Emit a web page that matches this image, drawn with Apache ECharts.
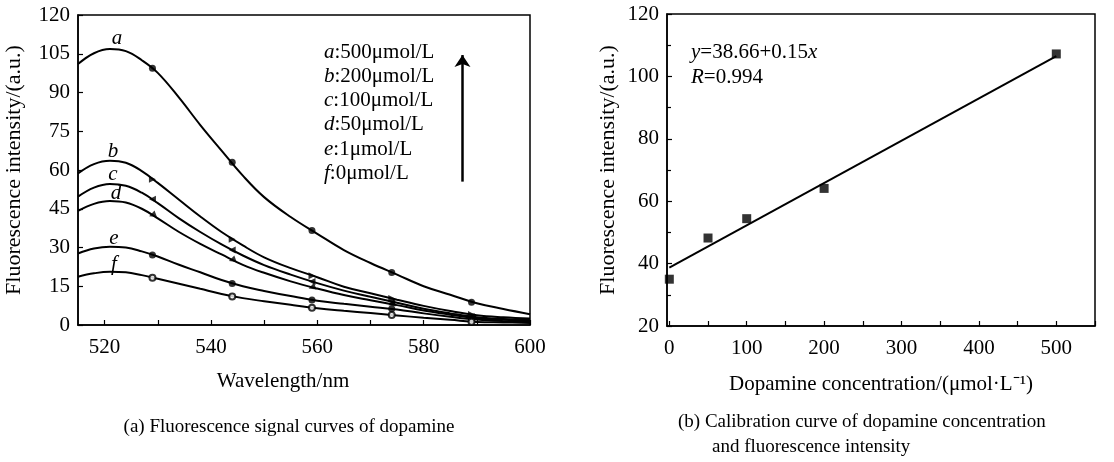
<!DOCTYPE html>
<html>
<head>
<meta charset="utf-8">
<script src="https://cdn.jsdelivr.net/npm/echarts@6/dist/echarts.min.js"></script>
<style>
html,body{margin:0;padding:0;background:#fff}
#chart{width:1114px;height:462px}
</style>
</head>
<body>
<div id="chart"></div>
<script>
// (a) spectra
var wavelength = [515, 518, 521, 524, 527, 530, 534, 538, 542, 546, 550, 555, 560, 565, 570, 575, 580, 585, 590, 595, 600];
var curveA = [101, 105.2, 106.8, 106, 102.5, 97.6, 88, 77.4, 67.5, 57.8, 49.5, 41.8, 35.3, 29, 24, 19.5, 15, 11.7, 8.4, 6.2, 4.2];
var curveB = [58.7, 62.3, 63.6, 62.8, 59.6, 55, 48.5, 42, 36, 30.8, 26.2, 22, 18.5, 14.8, 12.3, 9.8, 7.4, 5.4, 3.8, 3, 2.5];
var curveC = [49.7, 53.2, 54.6, 53.9, 51.2, 47.2, 41.3, 36, 31.2, 26.9, 23.2, 19.5, 16.2, 13.3, 10.9, 8.6, 6.3, 4.5, 3, 2.3, 1.9];
var curveD = [44.2, 46.9, 48, 47.4, 45, 41.3, 36, 31.4, 27.3, 23.3, 20.2, 16.9, 14.1, 11.6, 9.6, 7.7, 5.6, 4, 2.6, 2, 1.6];
var curveE = [27.7, 29.6, 30.3, 30, 28.5, 26.5, 23.3, 20.4, 17.4, 15, 13.2, 11.2, 9.4, 8.2, 7.1, 6, 4.5, 3.2, 2.1, 1.5, 1.2];
var curveF = [18.7, 20, 20.6, 20.4, 19.3, 17.9, 16, 14, 12, 10.4, 9.2, 7.8, 6.5, 5.5, 4.6, 3.7, 2.8, 2, 1.2, 1, 0.8];
// marker points on each curve
var markerWavelength = [529, 544, 559, 574, 589];
var markerA = [99.4, 63, 36.6, 20.3, 8.8];
var markerB = [56.4, 33.2, 19.1, 10.3, 4.1];
var markerC = [48.7, 29, 16.8, 9.0, 3.2];
var markerD = [42.6, 25.2, 14.6, 8.1, 2.8];
var markerE = [27.1, 16.1, 9.7, 6.3, 2.2];
var markerF = [18.3, 11, 6.7, 3.9, 1.3];
var curveNames = ['a', 'b', 'c', 'd', 'e', 'f'];
var concLabels = ['500μmol/L', '200μmol/L', '100μmol/L', '50μmol/L', '1μmol/L', '0μmol/L'];
var waveTicks = [520, 530, 540, 550, 560, 570, 580, 590, 600];
var waveLabels = [520, 540, 560, 580, 600];

// (b) calibration
var concX = [0, 50, 100, 200, 500];
var intensityY = [35, 48.2, 54.4, 64.1, 107.2];
var fitX = [0, 500];
var fitY = [38.7, 106.5];
var concTicks = [0, 50, 100, 150, 200, 250, 300, 350, 400, 450, 500, 550];
var concTickLabels = [0, 100, 200, 300, 400, 500];

var serif = '"Liberation Serif", "Times New Roman", serif';
var curves = [curveA, curveB, curveC, curveD, curveE, curveF];
var markers = [markerA, markerB, markerC, markerD, markerE, markerF];
var symbols = ['circle', 'triangle', 'triangle', 'triangle', 'circle', 'emptyCircle'];
var rotates = [0, -90, 90, 110, 0, 0];
// label positions of the curve letters and the legend rows, px
var letterPos = [[117, 38], [113, 151], [113, 174], [116, 193], [114, 238], [114, 264]];
var legendTop = 52, legendStep = 24.3;

function axisBase() {
    return {
        axisLine: {onZero: false, lineStyle: {color: '#000', width: 1.5}},
        axisTick: {inside: true, length: 5, lineStyle: {color: '#000', width: 1.2}},
        splitLine: {show: false},
        axisLabel: {color: '#000', fontFamily: serif, fontSize: 21},
        nameTextStyle: {color: '#000', fontFamily: serif, fontSize: 21}
    };
}

var chart = echarts.init(document.getElementById('chart'));

var series = [];
curves.forEach(function (ys, k) {
    series.push({
        type: 'line',
        xAxisIndex: 0,
        yAxisIndex: 0,
        smooth: 0.4,
        symbol: 'none',
        lineStyle: {color: '#000', width: 2},
        silent: true,
        data: ys.map(function (y, i) { return [wavelength[i], y]; })
    });
    series.push({
        type: 'scatter',
        xAxisIndex: 0,
        yAxisIndex: 0,
        symbol: symbols[k],
        symbolRotate: rotates[k],
        symbolSize: k === 5 ? 6 : 7,
        itemStyle: {color: '#000', borderWidth: k === 5 ? 1.5 : 0},
        silent: true,
        z: 3,
        data: markers[k].map(function (y, i) { return [markerWavelength[i], y]; })
    });
});

// arrow next to the legend
series[0].markLine = {
    silent: true,
    symbol: ['none', 'arrow'],
    symbolSize: 12,
    label: {show: false},
    lineStyle: {color: '#000', width: 2.5, type: 'solid'},
    data: [[{coord: [587.3, 55.5]}, {coord: [587.3, 104.5]}]]
};

series.push({
    type: 'line',
    xAxisIndex: 1,
    yAxisIndex: 1,
    symbol: 'none',
    lineStyle: {color: '#000', width: 2},
    silent: true,
    data: fitX.map(function (x, i) { return [x, fitY[i]]; })
});
series.push({
    type: 'scatter',
    xAxisIndex: 1,
    yAxisIndex: 1,
    symbol: 'rect',
    symbolSize: 9,
    itemStyle: {color: '#000'},
    silent: true,
    z: 5,
    data: concX.map(function (x, i) { return [x, intensityY[i]]; })
});

var rich = {i: {fontFamily: serif, fontSize: 21, fontStyle: 'italic', fill: '#000'}};
var graphic = [];
curveNames.forEach(function (n, k) {
    graphic.push({
        type: 'text', x: letterPos[k][0], y: letterPos[k][1],
        style: {text: n, fontFamily: serif, fontSize: 21, fontStyle: 'italic', fill: '#000',
            align: 'center', verticalAlign: 'middle'}
    });
    graphic.push({
        type: 'text', x: 324, y: legendTop + k * legendStep,
        style: {text: '{i|' + n + '}:' + concLabels[k], fontFamily: serif, fontSize: 21, fill: '#000',
            verticalAlign: 'middle', rich: rich}
    });
});
graphic.push({
    type: 'text', x: 691, y: 52,
    style: {text: '{i|y}=38.66+0.15{i|x}', fontFamily: serif, fontSize: 21, fill: '#000',
        verticalAlign: 'middle', rich: rich}
});
graphic.push({
    type: 'text', x: 691, y: 77,
    style: {text: '{i|R}=0.994', fontFamily: serif, fontSize: 21, fill: '#000',
        verticalAlign: 'middle', rich: rich}
});
graphic.push({
    type: 'text', x: 289, y: 427,
    style: {text: '(a) Fluorescence signal curves of dopamine', fontFamily: serif, fontSize: 19, fill: '#000',
        align: 'center', verticalAlign: 'middle'}
});
graphic.push({
    type: 'text', x: 678, y: 422,
    style: {text: '(b) Calibration curve of dopamine concentration', fontFamily: serif, fontSize: 19, fill: '#000',
        verticalAlign: 'middle'}
});
graphic.push({
    type: 'text', x: 712, y: 447,
    style: {text: 'and fluorescence intensity', fontFamily: serif, fontSize: 19, fill: '#000',
        verticalAlign: 'middle'}
});

var xa = axisBase(), ya = axisBase(), xb = axisBase(), yb = axisBase();

xa.type = 'value'; xa.min = 515; xa.max = 600; xa.gridIndex = 0;
xa.axisTick.customValues = waveTicks;
xa.axisLabel.customValues = waveLabels;
xa.axisLabel.margin = 12;
xa.name = 'Wavelength/nm'; xa.nameLocation = 'middle'; xa.nameGap = 46;
xa.nameTextStyle.padding = [0, 42, 0, 0];

ya.type = 'value'; ya.min = 0; ya.max = 120; ya.interval = 15; ya.gridIndex = 0;
ya.axisLabel.margin = 8;
ya.name = 'Fluorescence intensity/(a.u.)'; ya.nameLocation = 'middle'; ya.nameGap = 53;
ya.nameTextStyle.fontSize = 22;

xb.type = 'value'; xb.min = -3; xb.max = 550; xb.gridIndex = 1;
xb.axisTick.customValues = concTicks;
xb.axisLabel.customValues = concTickLabels;
xb.axisLabel.margin = 12;
xb.name = 'Dopamine concentration/(μmol·L⁻¹)'; xb.nameLocation = 'middle'; xb.nameGap = 48;

yb.type = 'value'; yb.min = 20; yb.max = 120; yb.interval = 20; yb.gridIndex = 1;
yb.minorTick = {show: true, splitNumber: 2, length: 4, lineStyle: {color: '#000', width: 1.2}};
yb.axisLabel.margin = 8;
yb.name = 'Fluorescence intensity/(a.u.)'; yb.nameLocation = 'middle'; yb.nameGap = 48;
yb.nameTextStyle.fontSize = 22;

chart.setOption({
    backgroundColor: '#fff',
    animation: false,
    grid: [
        {left: 78, right: 584, top: 15, bottom: 137, show: true, borderColor: '#000', borderWidth: 1.5},
        {left: 667, right: 19, top: 14, bottom: 136, show: true, borderColor: '#000', borderWidth: 1.5}
    ],
    xAxis: [xa, xb],
    yAxis: [ya, yb],
    series: series,
    graphic: graphic
});
</script>
</body>
</html>
